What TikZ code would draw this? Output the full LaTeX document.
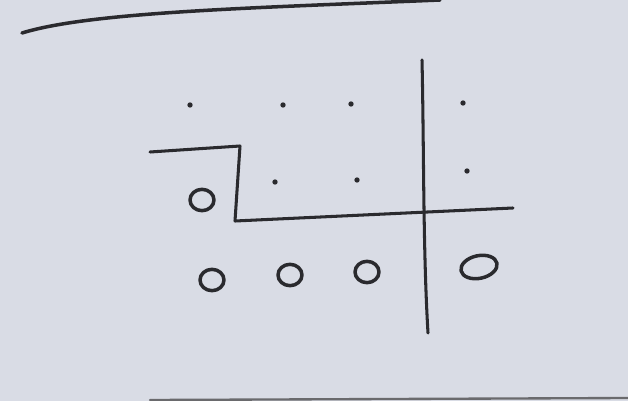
\documentclass[tikz,border=0pt]{standalone}
\usepackage{tikz}
\usetikzlibrary{shapes.geometric}
\definecolor{paper}{HTML}{D9DCE5}
\definecolor{pencil}{HTML}{2A2A2E}

\begin{document}
\begin{tikzpicture}[x=0.03cm, y=-0.03cm, line cap=round, line join=round,
  every node/.style={inner sep=0pt},
  dot/.style={shape=circle, fill=pencil, minimum size=0.16cm},
  ring/.style={shape=ellipse, draw=pencil, line width=3pt, minimum width=0.72cm, minimum height=0.64cm},
  stroke/.style={draw=pencil, line width=2.6pt}]
\fill [paper] (0,0) rectangle (628,401);
\useasboundingbox (0,0) rectangle (628,401);

% top row of dots
\node [dot] (D11) at (190,105) {};
\node [dot] (D12) at (283,105) {};
\node [dot] (D13) at (351,104) {};
\node [dot] (D14) at (463,103) {};

% middle row
\node [ring] (R21) at (202,200) {};
\node [dot] (D22) at (275,182) {};
\node [dot] (D23) at (357,180) {};
\node [dot] (D24) at (467,171) {};

% bottom row
\node [ring] (R31) at (212,280) {};
\node [ring] (R32) at (290,275) {};
\node [ring] (R33) at (367,272) {};
\node [ring, rotate=12, minimum width=1.1cm, minimum height=0.68cm] (R34) at (479,267) {};

% strokes
\coordinate (T1) at (22,33);
\coordinate (T2) at (440,0);
\coordinate (C1) at (150,152);
\coordinate (C2) at (240,146);
\coordinate (C3) at (235,221);
\coordinate (C4) at (513,208);
\coordinate (V1) at (422,60);
\coordinate (V2) at (428,333);
\coordinate (B1) at (150,400);
\coordinate (B2) at (628,398);

\path [stroke, line width=3pt] (T1) .. controls (90,12) and (250,8) .. (T2);
\path [stroke] (C1) -- (C2) -- (C3) -- (C4);
\path [stroke] (V1) .. controls (424,150) and (423,250) .. (V2);
\path [stroke, draw=pencil!70, line width=2pt] (B1) -- (B2);
\end{tikzpicture}
\end{document}
